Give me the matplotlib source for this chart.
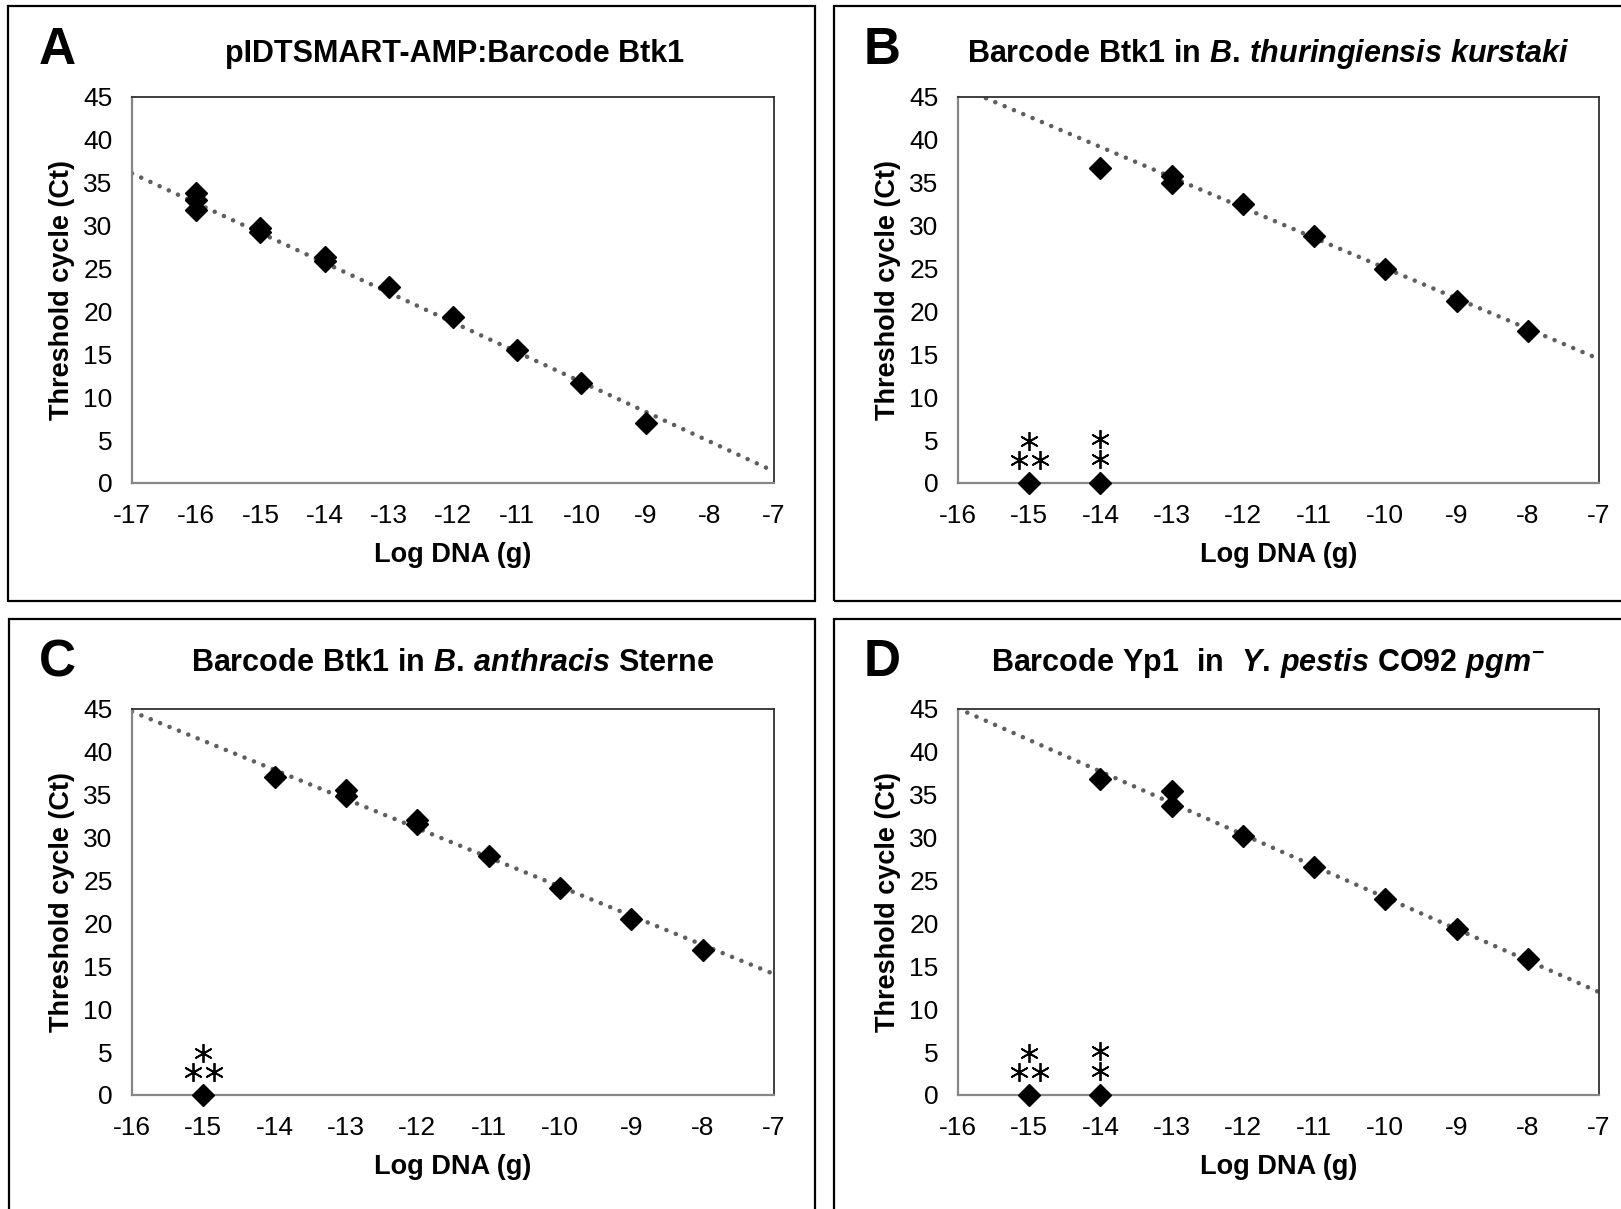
import matplotlib
matplotlib.use("Agg")
import matplotlib.pyplot as plt
from matplotlib.patches import Rectangle
import numpy as np

plt.rcParams['font.family'] = ['Liberation Sans', 'DejaVu Sans']
plt.rcParams['axes.unicode_minus'] = False
plt.rcParams['mathtext.fontset'] = 'custom'
plt.rcParams['mathtext.rm'] = 'Liberation Sans:bold'
plt.rcParams['mathtext.bf'] = 'Liberation Sans:bold'
plt.rcParams['mathtext.it'] = 'Liberation Sans:italic:bold'

# data (log g DNA vs Ct; Ct = 0 means not detected)
a_x = [-16, -16, -16, -15, -15, -14, -14, -13, -12, -11, -10, -9]
a_ct = [33.8, 33.0, 31.8, 29.7, 29.3, 26.3, 25.9, 22.8, 19.4, 15.5, 11.7, 7.0]

b_x = [-15, -14, -14, -13, -13, -12, -11, -10, -9, -8]
b_ct = [0, 0, 36.7, 35.8, 35.0, 32.5, 28.8, 24.9, 21.2, 17.7]

c_x = [-15, -14, -13, -13, -12, -12, -11, -10, -9, -8]
c_ct = [0, 37.1, 35.5, 34.8, 32.1, 31.6, 27.9, 24.1, 20.5, 16.9]

d_x = [-15, -14, -14, -13, -13, -12, -11, -10, -9, -8]
d_ct = [0, 0, 36.8, 35.4, 33.7, 30.2, 26.6, 22.9, 19.3, 15.8]

# linear trendlines (slope, intercept)
trend_a = (-3.474, -22.96)
trend_b = (-3.532, -10.27)
trend_c = (-3.40, -9.70)
trend_d = (-3.674, -13.72)

# number of replicates not detected at a given dilution
nd_b = {-15: 3, -14: 2}
nd_c = {-15: 3}
nd_d = {-15: 3, -14: 2}

xlims = [(-17, -7), (-16, -7), (-16, -7), (-16, -7)]
yticks = list(range(0, 50, 5))

letters = ['A', 'B', 'C', 'D']
titles = [
    'pIDTSMART-AMP:Barcode Btk1',
    r'$\mathrm{Barcode\ Btk1\ in\ }\mathit{B.\,thuringiensis\ kurstaki}$',
    r'$\mathrm{Barcode\ Btk1\ in\ }\mathit{B.\,anthracis}\mathrm{\ Sterne}$',
    r'$\mathrm{Barcode\ Yp1\ \ in\ \ }\mathit{Y.\,pestis}\mathrm{\ CO92\ }\mathit{pgm}^{\mathrm{-}}$',
]

W, H = 1621, 1209
fig = plt.figure(figsize=(W / 100, H / 100), dpi=100)


def px(x, y):
    return x / W, 1 - y / H


# panel frames (pixel coords: left, top, right, bottom)
frames = [(8, 6, 815, 601), (834, 6, 1630, 601), (9, 619, 815, 1215), (834, 619, 1630, 1215)]
for l, t, r, b in frames:
    fig.patches.append(Rectangle(px(l, b), (r - l) / W, (b - t) / H, transform=fig.transFigure,
                                 fill=False, edgecolor='black', linewidth=1.6, clip_on=False))

# axes boxes in pixels
boxes = [(132, 97, 774, 483), (958, 97, 1599, 483), (132, 709, 774, 1095), (958, 709, 1599, 1095)]
letter_pos = [(57, 51), (882, 51), (57, 663), (882, 663)]
title_pos = [(455, 54), (1268, 54), (453, 663), (1268, 663)]

datasets = [(a_x, a_ct, trend_a, {}), (b_x, b_ct, trend_b, nd_b),
            (c_x, c_ct, trend_c, nd_c), (d_x, d_ct, trend_d, nd_d)]

star = dict(linestyle='none', marker=(6, 2, 0), markersize=13.5,
            markeredgewidth=1.3, color='black')

for i, (xs, ys, (slope, icept), nd) in enumerate(datasets):
    l, t, r, b = boxes[i]
    x0, y0 = px(l, b)
    ax = fig.add_axes([x0, y0, (r - l) / W, (b - t) / H])
    lo, hi = xlims[i]

    # trendline
    tx = np.array([lo, hi], dtype=float)
    ax.plot(tx, slope * tx + icept, color='#5f5f5f', linewidth=3.3,
            linestyle=(0, (0.01, 2.2)), dash_capstyle='round', zorder=2)

    # data points
    ax.plot(xs, ys, linestyle='none', marker='D', markersize=10.8,
            color='black', zorder=3, clip_on=False)

    # asterisks for non-detected replicates
    for xv, n in nd.items():
        if n == 3:
            ax.plot([xv], [4.9], **star)
            ax.plot([xv - 0.145, xv + 0.145], [2.7, 2.7], **star)
        else:
            ax.plot([xv, xv], [5.1, 2.8], **star)

    ax.set_xlim(lo, hi)
    ax.set_ylim(0, 45)
    ax.set_xticks(list(range(lo, hi + 1)))
    ax.set_yticks(yticks)
    ax.tick_params(length=0, labelsize=19)
    ax.tick_params(axis='y', pad=14)
    ax.tick_params(axis='x', pad=15)

    for s in ['top', 'right']:
        ax.spines[s].set_color('#303030')
        ax.spines[s].set_linewidth(1.3)
    for s in ['left', 'bottom']:
        ax.spines[s].set_color('#868686')
        ax.spines[s].set_linewidth(1.6)

    ax.set_xlabel('Log DNA (g)', fontsize=19.5, fontweight='bold')
    ax.set_ylabel('Threshold cycle (Ct)', fontsize=19.5, fontweight='bold')
    ax.xaxis.set_label_coords(0.5, -0.153)
    ax.yaxis.set_label_coords(-0.089, 0.5)

    lx, ly = px(*letter_pos[i])
    fig.text(lx, ly, letters[i], fontsize=37, fontweight='bold', ha='center', va='center')
    tx_, ty_ = px(*title_pos[i])
    fig.text(tx_, ty_, titles[i], fontsize=22, fontweight='bold', ha='center', va='center')

fig.savefig('out.png', dpi=100)
